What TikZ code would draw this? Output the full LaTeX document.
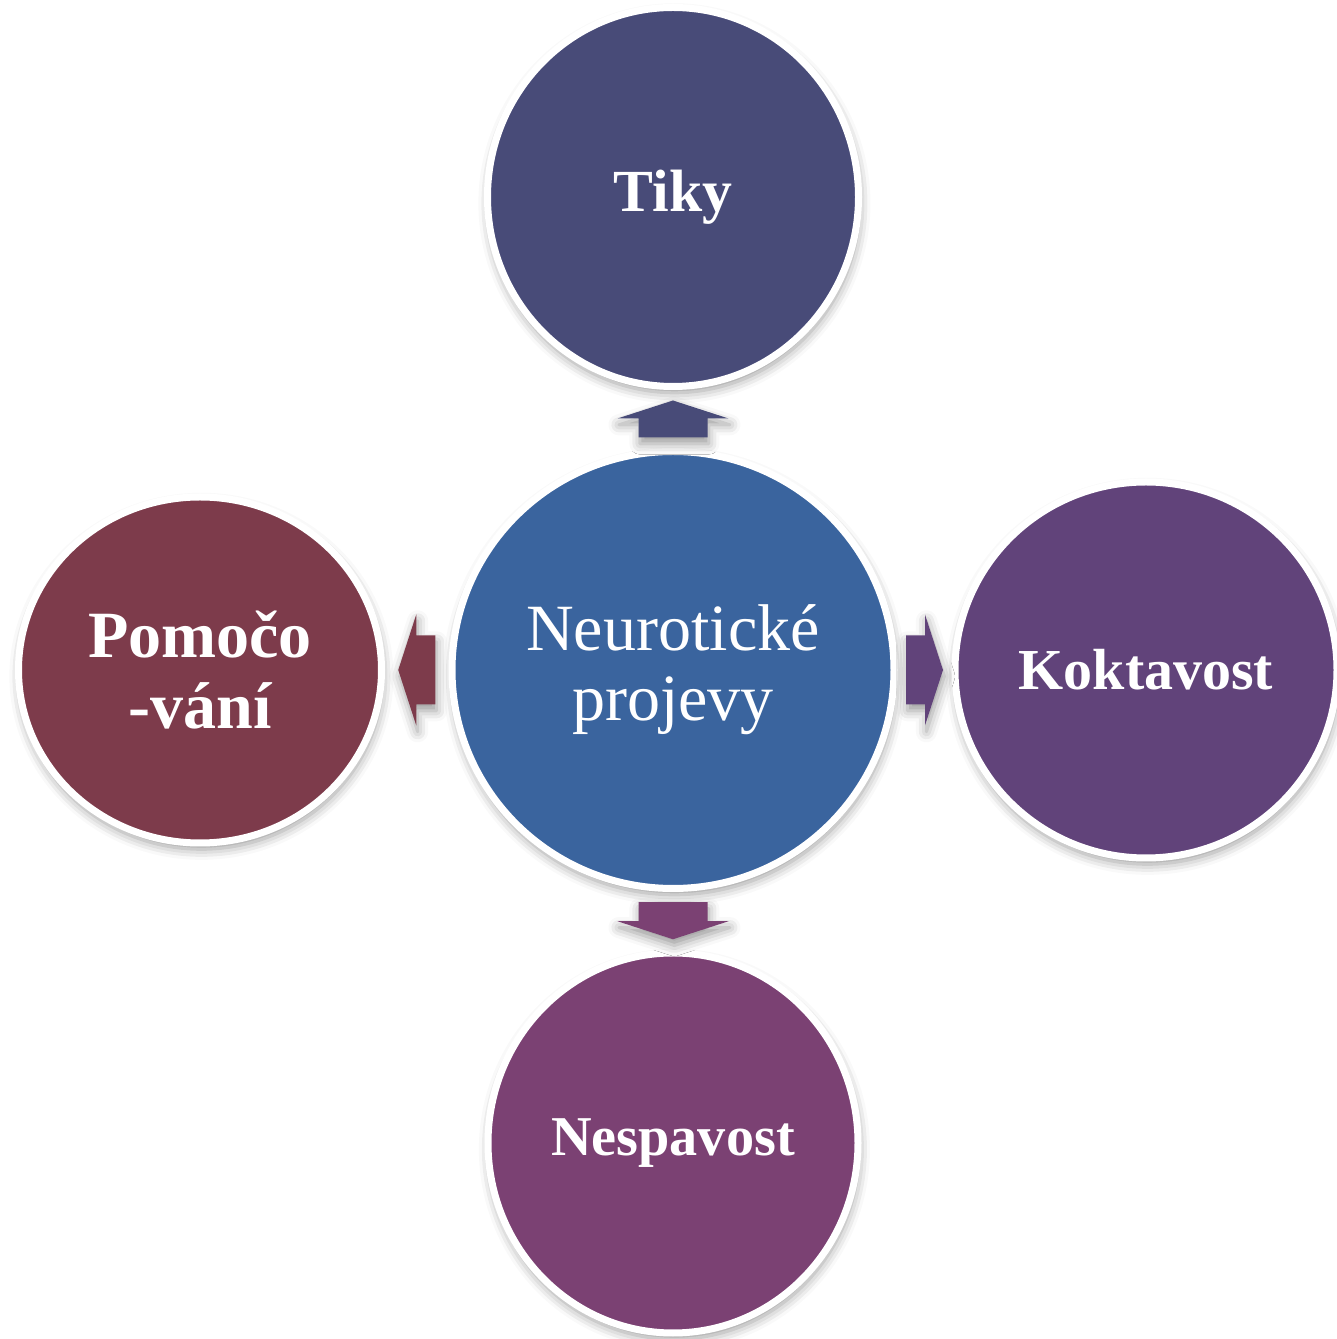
\documentclass[tikz,border=0pt]{standalone}
\usepackage{fontspec}
\setmainfont{Liberation Serif}
\usetikzlibrary{shapes.geometric,shadows.blur,calc}
\definecolor{tikyc}{RGB}{72,75,120}
\definecolor{neuroc}{RGB}{58,100,158}
\definecolor{pomoc}{RGB}{125,59,75}
\definecolor{koktc}{RGB}{97,67,122}
\definecolor{nespc}{RGB}{123,65,115}

\begin{document}
\begin{tikzpicture}[node distance=4.73cm,
  blockarr/.pic={\fill[#1, shad] (-0.185,-0.345) -- (0.005,-0.345) -- (0.005,-0.555) -- (0.185,0)
     -- (0.005,0.555) -- (0.005,0.345) -- (-0.185,0.345) -- cycle;}]
\tikzstyle {shad}=[blur shadow={shadow xshift=0.4pt, shadow yshift=-1.8pt, shadow blur radius=3pt, shadow opacity=40}]
\tikzstyle {bub}=[ellipse, draw=white, line width=0.07cm, text=white, align=center, inner sep=0pt, shad]
\useasboundingbox (0,0) rectangle (13.36,13.39);
\node (ctr) [bub, fill=neuroc, minimum width=4.42cm, minimum height=4.37cm, font=\fontsize{18.8}{20}\selectfont] at (6.73,6.69) {Neurotické\\projevy};
\node (tiky) [bub, fill=tikyc, minimum width=3.71cm, minimum height=3.79cm, above of=ctr, font=\bfseries\fontsize{17}{20}\selectfont] {Tiky};
\node (pomo) [bub, fill=pomoc, minimum width=3.63cm, minimum height=3.46cm, left of=ctr, font=\bfseries\fontsize{18.8}{20}\selectfont] {Pomočo\\-vání};
\node (kokt) [bub, fill=koktc, minimum width=3.82cm, minimum height=3.76cm, right of=ctr, font=\bfseries\fontsize{16.5}{20}\selectfont] {Koktavost};
\node (nesp) [bub, fill=nespc, minimum width=3.70cm, minimum height=3.80cm, below of=ctr, font=\bfseries\fontsize{16}{20}\selectfont] {Nespavost};
% arrows half way between the circles
\coordinate (aT) at ($(ctr.north)!0.5!(tiky.south)$);
\coordinate (aL) at ($(ctr.west)!0.5!(pomo.east)$);
\coordinate (aR) at ($(ctr.east)!0.5!(kokt.west)$);
\coordinate (aB) at ($(ctr.south)!0.5!(nesp.north)$);
\pic[rotate=90] at (aT) {blockarr=tikyc};
\pic[rotate=180] at (aL) {blockarr=pomoc};
\pic at (aR) {blockarr=koktc};
\pic[rotate=270] at (aB) {blockarr=nespc};
\end{tikzpicture}
\end{document}
